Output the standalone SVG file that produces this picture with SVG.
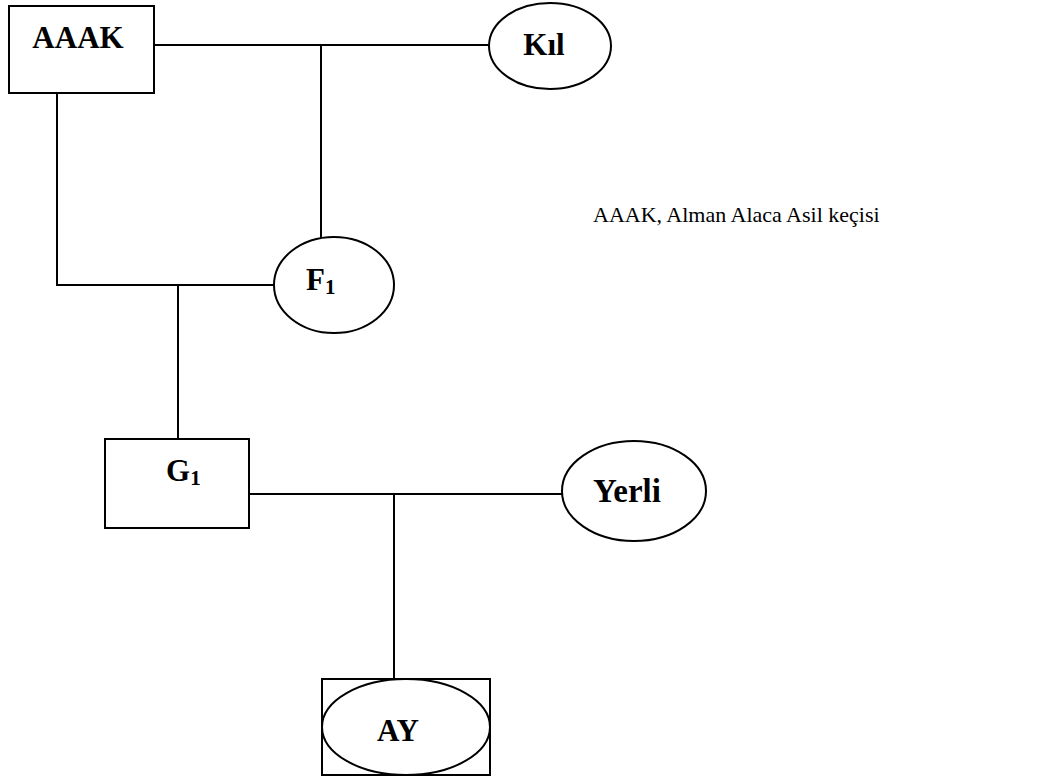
<svg xmlns="http://www.w3.org/2000/svg" width="1038" height="779" viewBox="0 0 1038 779">
<style>
.s{fill:#fff;stroke:#000;stroke-width:2}
.c{fill:none;stroke:#000;stroke-width:2}
.t{font-family:"Liberation Serif",serif;font-weight:bold;font-size:31px;fill:#000}
.sub{font-size:21px}
.d{font-family:"Liberation Serif",serif;font-size:22px;fill:#000}
</style>
<rect width="1038" height="779" fill="#fff"/>
<g id="connectors">
<polyline class="c" points="154,45 489,45"/>
<polyline class="c" points="321,45 321,238"/>
<polyline class="c" points="57,93 57,285 274,285"/>
<polyline class="c" points="178,285 178,439"/>
<polyline class="c" points="249,494 562,494"/>
<polyline class="c" points="394,494 394,679"/>
</g>
<g id="AAAK">
<rect class="s" x="9" y="6" width="145" height="87"/>
<text class="t" x="78" y="48" text-anchor="middle">AAAK</text>
</g>
<g id="Kil">
<ellipse class="s" cx="550" cy="46" rx="61" ry="43"/>
<text class="t" x="544" y="55" text-anchor="middle">Kıl</text>
</g>
<g id="F1">
<ellipse class="s" cx="334" cy="285" rx="60" ry="48"/>
<text class="t" x="306" y="290">F<tspan class="sub" dy="4">1</tspan></text>
</g>
<g id="G1">
<rect class="s" x="105" y="439" width="144" height="89"/>
<text class="t" x="166" y="481">G<tspan class="sub" dy="4">1</tspan></text>
</g>
<g id="Yerli">
<ellipse class="s" cx="634" cy="491" rx="72" ry="50"/>
<text class="t" x="627" y="502" text-anchor="middle" style="font-size:33px">Yerli</text>
</g>
<g id="AY">
<rect class="s" x="322" y="679" width="168" height="96"/>
<ellipse class="s" cx="406" cy="727" rx="84" ry="48"/>
<text class="t" x="398" y="741" text-anchor="middle">AY</text>
</g>
<g id="legend">
<text class="d" x="593" y="222">AAAK, Alman Alaca Asil keçisi</text>
</g>
</svg>
